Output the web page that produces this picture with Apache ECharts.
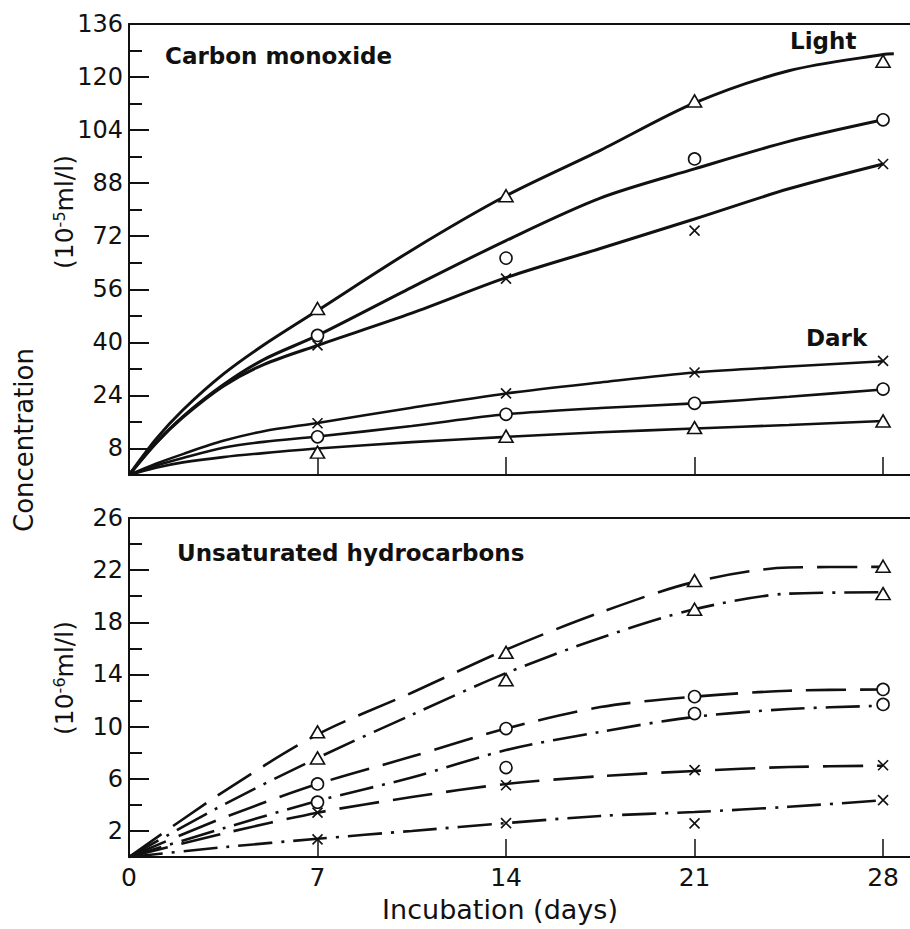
<!DOCTYPE html>
<html><head><meta charset="utf-8">
<script src="https://cdn.jsdelivr.net/npm/echarts@6/dist/echarts.min.js"></script>
<style>html,body{margin:0;padding:0;background:#fff}#c{width:910px;height:929px}</style>
</head><body><div id="c"></div>
<script>
// ---------- data ----------
// Top panel: Carbon monoxide (10^-5 ml/l), fitted solid curves
const topDays        = [0, 1, 2, 3.5, 5, 7, 10.5, 14, 17.5, 21, 24.5, 28, 28.4];
const lightTriCurve  = [0, 10.8, 19.6, 30.4, 39.2, 49.6, 67.8, 84.2, 97.9, 112.2, 121.9, 126.8, 127.0];
const lightCircCurve = [0, 9.6, 17.6, 27.2, 34.8, 42.1, 56.6, 70.7, 83.5, 92.3, 100.6, 107.1, null];
const lightCrossCurve= [0, 9.6, 17.4, 26.8, 33.3, 39.1, 48.8, 59.5, 68.3, 77.2, 86.3, 93.8, null];
const darkCrossCurve = [0, 3.4, 6.3, 10.3, 13.2, 15.7, 20.3, 24.6, 27.9, 30.9, 32.7, 34.3, null];
const darkCircCurve  = [0, 2.8, 5.1, 8.2, 10.0, 11.6, 14.8, 18.3, 20.2, 21.6, 23.6, 25.8, null];
const darkTriCurve   = [0, 2.2, 3.8, 5.4, 6.6, 8.0, 9.9, 11.5, 12.9, 14.0, 15.1, 16.3, null];
// measured points
const markDays   = [7, 14, 21, 28];
const lightTri   = [50.2, 84.2, 112.8, 124.8];
const lightCirc  = [42.1, 65.4, 95.3, 107.1];
const lightCross = [39.1, 59.2, 73.7, 93.8];
const darkCross  = [15.6, 24.6, 30.9, 34.4];
const darkCirc   = [11.5, 18.3, 21.6, 25.9];
const darkTri    = [6.9, 11.7, 14.3, 16.3];

// Bottom panel: Unsaturated hydrocarbons (10^-6 ml/l), dashed / dash-dot curves
const botDays        = [0, 3.5, 7, 10.5, 14, 17.5, 21, 24.5, 28];
const dashTriCurve   = [0, 5.0, 9.4, 12.6, 15.9, 18.75, 21.1, 22.2, 22.25];
const dotTriCurve    = [0, 4.0, 7.6, 10.9, 14.1, 16.8, 19.0, 20.2, 20.3];
const dashCircCurve  = [0, 3.0, 5.6, 7.7, 9.85, 11.5, 12.3, 12.75, 12.85];
const dotCircCurve   = [0, 2.2, 4.3, 6.1, 8.2, 9.6, 10.75, 11.35, 11.6];
const dashCrossCurve = [0, 1.8, 3.4, 4.6, 5.6, 6.2, 6.6, 6.9, 7.0];
const dotCrossCurve  = [0, 0.75, 1.4, 2.0, 2.6, 3.15, 3.45, 3.85, 4.35];
const dashTri   = [9.6, 15.7, 21.2, 22.3];
const dotTri    = [7.6, 13.6, 19.0, 20.2];
const dashCirc  = [5.6, 9.85, 12.3, 12.85];
const dotCirc   = [4.2, 6.86, 11.0, 11.7];
const dashCross = [3.4, 5.5, 6.66, 7.04];
const dotCross  = [1.35, 2.6, 2.58, 4.36];

// tick labels
const topYLabels   = [8, 24, 40, 56, 72, 88, 104, 120, 136];
const topYMinor    = [16, 32, 48, 64, 80, 96, 112, 128];
const botYLabels   = [2, 6, 10, 14, 18, 22, 26];
const botYMinor    = [4, 8, 12, 16, 20, 24];
const xTickDays    = [7, 14, 21, 28];
const xLabelDays   = [0, 7, 14, 21, 28];

// ---------- chart ----------
const INK = '#111';
const FONT = 'DejaVu Sans';
const DASH = [40, 14];
const DASHDOT = [34, 9, 3, 9];
const CROSS = 'path://M0,0L10,10M10,0L0,10';

function curve(days, vals, gi, type, width) {
  const data = [];
  days.forEach((d, i) => { if (vals[i] != null) data.push([d, vals[i]]); });
  return {
    type: 'line', xAxisIndex: gi * 2, yAxisIndex: gi * 2, data,
    smooth: 0.3, showSymbol: false, symbol: 'none',
    lineStyle: { color: INK, width: width, type: type, cap: 'butt' },
    silent: true, animation: false, z: 2
  };
}
function marks(vals, gi, shape) {
  let symbol = 'circle', size = 12;
  if (shape === 'tri') { symbol = 'triangle'; size = [14, 12]; }
  if (shape === 'cross') { symbol = CROSS; size = 10; }
  return {
    type: 'scatter', xAxisIndex: gi * 2, yAxisIndex: gi * 2,
    data: markDays.map((d, i) => [d, vals[i]]),
    symbol, symbolSize: size,
    itemStyle: { color: shape === 'cross' ? 'rgba(0,0,0,0)' : '#fff', borderColor: INK, borderWidth: 1.6, opacity: 1 },
    silent: true, animation: false, z: 5
  };
}
function xAxes(gi, withLabels) {
  return [
    { type: 'value', gridIndex: gi, min: 0, max: 29, position: 'bottom',
      axisLine: { show: true, onZero: false, lineStyle: { color: INK, width: 2 } },
      axisTick: { show: true, inside: true, length: 18, customValues: xTickDays, lineStyle: { color: INK, width: 1.5 } },
      axisLabel: { show: withLabels, customValues: xLabelDays, color: INK, fontFamily: FONT, fontSize: 25, margin: 8 },
      splitLine: { show: false } },
    { type: 'value', gridIndex: gi, min: 0, max: 29, position: 'top',
      axisLine: { show: true, onZero: false, lineStyle: { color: INK, width: 2 } },
      axisTick: { show: false }, axisLabel: { show: false }, splitLine: { show: false } }
  ];
}
function yAxes(gi, max, labels, minor) {
  return [
    { type: 'value', gridIndex: gi, min: 0, max: max, position: 'left',
      axisLine: { show: true, onZero: false, lineStyle: { color: INK, width: 2 } },
      axisTick: { show: true, inside: true, length: 20, customValues: labels, lineStyle: { color: INK, width: 2 } },
      axisLabel: { show: true, customValues: labels, color: INK, fontFamily: FONT, fontSize: 24, margin: 6 },
      splitLine: { show: false } },
    { type: 'value', gridIndex: gi, min: 0, max: max, position: 'left', offset: 0,
      axisLine: { show: false },
      axisTick: { show: true, inside: true, length: 13, customValues: minor, lineStyle: { color: INK, width: 2 } },
      axisLabel: { show: false }, splitLine: { show: false } }
  ];
}

const chart = echarts.init(document.getElementById('c'), null, { renderer: 'svg' });
chart.setOption({
  backgroundColor: '#fff',
  animation: false,
  grid: [
    { left: 129, top: 24, width: 781, height: 451, outerBoundsMode: 'none', containLabel: false },
    { left: 129, top: 518, width: 781, height: 339, outerBoundsMode: 'none', containLabel: false }
  ],
  xAxis: [...xAxes(0, false), ...xAxes(1, true)],
  yAxis: [...yAxes(0, 136, topYLabels, topYMinor), ...yAxes(1, 26, botYLabels, botYMinor)],
  series: [
    curve(topDays, lightTriCurve, 0, 'solid', 3),
    curve(topDays, lightCircCurve, 0, 'solid', 3),
    curve(topDays, lightCrossCurve, 0, 'solid', 3),
    curve(topDays, darkCrossCurve, 0, 'solid', 2.6),
    curve(topDays, darkCircCurve, 0, 'solid', 2.6),
    curve(topDays, darkTriCurve, 0, 'solid', 2.6),
    marks(lightTri, 0, 'tri'), marks(lightCirc, 0, 'circ'), marks(lightCross, 0, 'cross'),
    marks(darkCross, 0, 'cross'), marks(darkCirc, 0, 'circ'), marks(darkTri, 0, 'tri'),
    curve(botDays, dashTriCurve, 1, DASH, 2.6),
    curve(botDays, dotTriCurve, 1, DASHDOT, 2.6),
    curve(botDays, dashCircCurve, 1, DASH, 2.6),
    curve(botDays, dotCircCurve, 1, DASHDOT, 2.6),
    curve(botDays, dashCrossCurve, 1, DASH, 2.6),
    curve(botDays, dotCrossCurve, 1, DASHDOT, 2.6),
    marks(dashTri, 1, 'tri'), marks(dotTri, 1, 'tri'), marks(dashCirc, 1, 'circ'),
    marks(dotCirc, 1, 'circ'), marks(dashCross, 1, 'cross'), marks(dotCross, 1, 'cross')
  ],
  graphic: [
    { type: 'text', left: 165, top: 44, style: { text: 'Carbon monoxide', font: 'bold 23px "DejaVu Sans"', fill: INK } },
    { type: 'text', left: 790, top: 29, style: { text: 'Light', font: 'bold 23px "DejaVu Sans"', fill: INK } },
    { type: 'text', left: 806, top: 326, style: { text: 'Dark', font: 'bold 23px "DejaVu Sans"', fill: INK } },
    { type: 'text', left: 177, top: 541, style: { text: 'Unsaturated hydrocarbons', font: 'bold 23px "DejaVu Sans"', fill: INK } },
    { type: 'text', x: 500, y: 909, style: { text: 'Incubation (days)', font: '27px "DejaVu Sans"', fill: INK, align: 'center', verticalAlign: 'middle' } },
    { type: 'text', x: 24, y: 440, rotation: Math.PI / 2, style: { text: 'Concentration', font: '26px "DejaVu Sans"', fill: INK, align: 'center', verticalAlign: 'middle' } },
    { type: 'text', x: 64, y: 212, rotation: Math.PI / 2,
      style: { text: '(10{s|-5}ml/l)', font: '25px "DejaVu Sans"', fill: INK, align: 'center', verticalAlign: 'middle',
        rich: { s: { fontSize: 16, fontFamily: FONT, verticalAlign: 'top', fill: INK } } } },
    { type: 'text', x: 64, y: 678, rotation: Math.PI / 2,
      style: { text: '(10{s|-6}ml/l)', font: '25px "DejaVu Sans"', fill: INK, align: 'center', verticalAlign: 'middle',
        rich: { s: { fontSize: 16, fontFamily: FONT, verticalAlign: 'top', fill: INK } } } }
  ]
});
</script>
</body></html>
